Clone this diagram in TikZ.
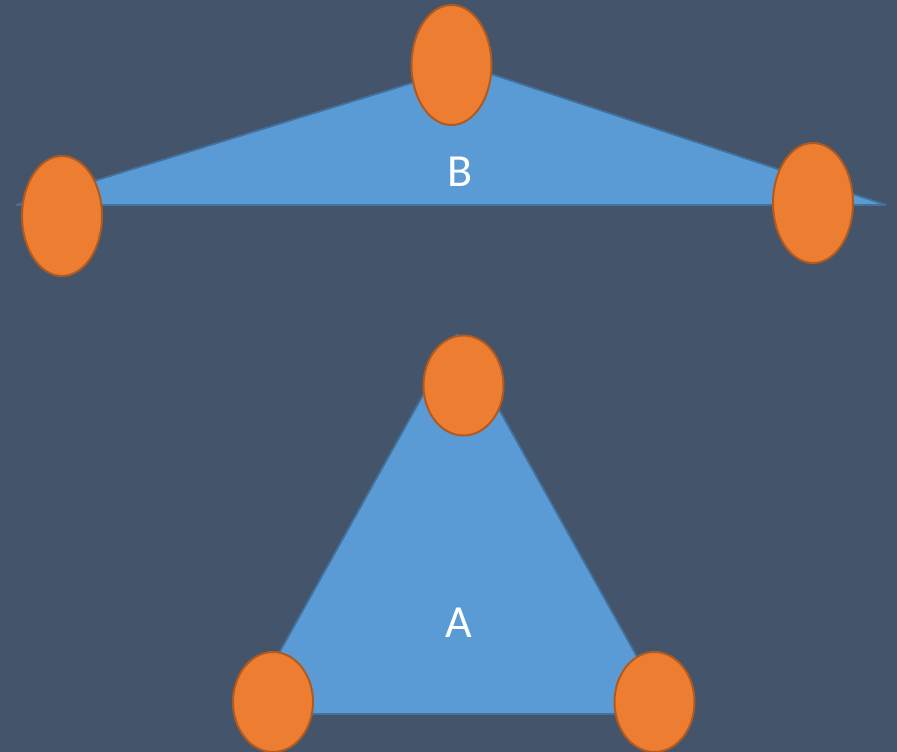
\documentclass[tikz,border=0pt]{standalone}
\usepackage{fontspec}
\setmainfont{Carlito}
\definecolor{bgc}{HTML}{44546A}
\definecolor{trifill}{HTML}{5B9BD5}
\definecolor{triline}{HTML}{41719C}
\definecolor{ellfill}{HTML}{ED7D31}
\definecolor{elline}{HTML}{AE5A21}
\usetikzlibrary{shapes.geometric}
\tikzset{
  tri/.style={fill=trifill, draw=triline, line width=1.8pt, line join=bevel},
  dot/.style={ellipse, fill=ellfill, draw=elline, line width=2pt, inner sep=0pt, minimum width=80pt, minimum height=120pt},
  dotA/.style={dot, minimum height=100pt},
  lbl/.style={text=white, font=\fontsize{46}{46}\selectfont, inner sep=0pt}
}
\begin{document}
\begin{tikzpicture}[x=1pt,y=-1pt]
\fill[bgc] (0,0) rectangle (897,752);
\useasboundingbox (0,0) rectangle (897,752);
% triangle B
\coordinate (b1) at (16,205);
\coordinate (b2) at (467,66);
\coordinate (b3) at (886,205);
\draw[tri] (b1) -- (b2) -- (b3) -- cycle;
% triangle A
\coordinate (a1) at (245,714);
\coordinate (a2) at (457,334);
\coordinate (a3) at (669,714);
\draw[tri] (a1) -- (a2) -- (a3) -- cycle;
% ellipses
\node[dot] (bl) at (62,216) {};
\node[dot] (bt) at (451.5,65) {};
\node[dot] (br) at (813,203) {};
\node[dotA] (at) at (463.5,385.5) {};
\node[dotA] (al) at (273,702) {};
\node[dotA] (ar) at (654.5,702) {};
% labels
\node[lbl] (lb) at (460,172) {B};
\node[lbl] (la) at (458.5,622.5) {A};
\end{tikzpicture}
\end{document}
